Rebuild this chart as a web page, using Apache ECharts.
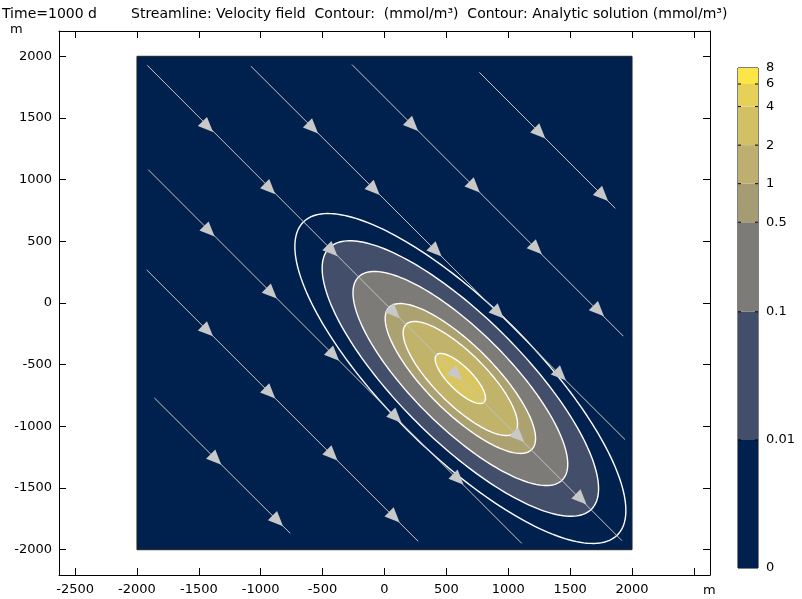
<!DOCTYPE html>
<html><head><meta charset="utf-8">
<script src="https://cdn.jsdelivr.net/npm/echarts@6/dist/echarts.min.js"></script>
<style>html,body{margin:0;padding:0;background:#fff}#c{width:802px;height:599px}</style>
</head><body><div id="c"></div>
<script>
// ---- axes ----
const xTicks = [-2500,-2000,-1500,-1000,-500,0,500,1000,1500,2000,2500];
const xLabelValues = [-2500,-2000,-1500,-1000,-500,0,500,1000,1500,2000];
const yTicks = [-2000,-1500,-1000,-500,0,500,1000,1500,2000];
const xRange = [-2630, 2630];
const yRange = [-2205, 2205];
// ---- domain ----
const domainBox = [[-2000,-2000,2000,2000]];
// ---- contour ellipses (center, semi-major along (1,-1), semi-minor) ----
const plumeCenter = [613, -612];
const fillSemiMajor = [1498, 1164, 815, 620, 271];
const fillSemiMinor = [500, 388, 272, 207, 95];
const fillColors = ['#434e6b', '#7c7b78', '#aca171', '#c2b36b', '#d9c660'];
const lineSemiMajor = [1794, 1498, 1164, 815, 620, 271];
const lineSemiMinor = [598, 500, 388, 272, 207, 95];
// ---- streamlines ----
const streamStart = [[-1917,1927],[-1079,1919],[-263,1933],[766,1870],[-1909,1081],[-1922,269],[-1860,-769]];
const streamEnd   = [[1919,-1927],[1943,-1107],[1930,-269],[1865,767],[1109,-1949],[273,-1933],[-761,-1868]];
const arrows = [
  [-1437,1437],[-934,934],[-431,431],[72,-72],[575,-575],[1078,-1078],[1581,-1581],
  [-588,1426],[-90,928],[410,428],[912,-74],[1415,-577],
  [220,1446],[718,948],[1220,446],[1722,-56],
  [1248,1386],[1755,879],
  [-1424,590],[-921,87],[-418,-416],[85,-919],[588,-1422],
  [-1437,-219],[-934,-722],[-431,-1225],[71,-1727],
  [-1370,-1259],[-871,-1758]
];
const flowDir = [1, -1];
// ---- colour bar ----
const cbLevels = [0, 0.01, 0.1, 0.5, 1, 2, 4, 6, 8];
const cbZeroPos = 0.001;
const cbColors = ['#00214e', '#434e6b', '#7c7b78', '#a59c74', '#bcaf6f', '#d2c065', '#e6d05a', '#fbe547'];

const FONT = '13px "DejaVu Sans"';
const TFONT = '14px "DejaVu Sans"';
const chart = echarts.init(document.getElementById('c'), null, {renderer: 'canvas'});

function ellipsePoints(api, cx, cy, a, b) {
  const pts = [], s = Math.SQRT1_2;
  for (let k = 0; k < 200; k++) {
    const t = k / 200 * 2 * Math.PI;
    const ca = a * Math.cos(t), sb = b * Math.sin(t);
    pts.push(api.coord([cx + (ca + sb) * s, cy + (-ca + sb) * s]));
  }
  return pts;
}
const cbPos = v => (v === 0 ? cbZeroPos : v);
const plain = v => String(v);

const axisCommon = {
  type: 'value', axisLine: {show: true, onZero: false, lineStyle: {color: '#000', width: 1}},
  splitLine: {show: false}, axisTick: {show: true, inside: true, length: 7, lineStyle: {color: '#000'}}
};

chart.setOption({
  animation: false,
  backgroundColor: '#fff',
  grid: [
    {left: 59, right: 92, top: 31, bottom: 24},
    {left: 738, top: 68, width: 20, height: 500, show: true, borderColor: '#000', borderWidth: 1, backgroundColor: 'transparent'}
  ],
  xAxis: [
    Object.assign({}, axisCommon, {gridIndex: 0, position: 'bottom', min: xRange[0], max: xRange[1],
      axisTick: Object.assign({}, axisCommon.axisTick, {customValues: xTicks}),
      axisLabel: {customValues: xLabelValues, formatter: plain, color: '#000', fontFamily: 'DejaVu Sans', fontSize: 13, margin: 8}}),
    Object.assign({}, axisCommon, {gridIndex: 0, position: 'top', min: xRange[0], max: xRange[1],
      axisTick: Object.assign({}, axisCommon.axisTick, {customValues: xTicks}), axisLabel: {show: false}}),
    {gridIndex: 1, type: 'value', min: 0, max: 1, show: false}
  ],
  yAxis: [
    Object.assign({}, axisCommon, {gridIndex: 0, position: 'left', min: yRange[0], max: yRange[1],
      axisTick: Object.assign({}, axisCommon.axisTick, {customValues: yTicks}),
      axisLabel: {customValues: yTicks, formatter: plain, color: '#000', fontFamily: 'DejaVu Sans', fontSize: 13, margin: 7}}),
    Object.assign({}, axisCommon, {gridIndex: 0, position: 'right', min: yRange[0], max: yRange[1],
      axisTick: Object.assign({}, axisCommon.axisTick, {customValues: yTicks}), axisLabel: {show: false}}),
    {gridIndex: 1, type: 'log', min: cbZeroPos, max: cbLevels[cbLevels.length - 1], show: false}
  ],
  graphic: [
    {type: 'text', left: 2, top: 7, style: {text: 'Time=1000 d', font: TFONT, fill: '#000'}},
    {type: 'text', left: 131, top: 7, style: {text: 'Streamline: Velocity field  Contour:  (mmol/m³)  Contour: Analytic solution (mmol/m³)', font: TFONT, fill: '#000'}},
    {type: 'text', left: 10, top: 23, style: {text: 'm', font: FONT, fill: '#000'}},
    {type: 'text', left: 703, top: 584, style: {text: 'm', font: FONT, fill: '#000'}}
  ],
  series: [
    { // domain
      type: 'custom', xAxisIndex: 0, yAxisIndex: 0, z: 1, silent: true,
      data: domainBox,
      renderItem(params, api) {
        const p0 = api.coord([api.value(0), api.value(3)]);
        const p1 = api.coord([api.value(2), api.value(1)]);
        return {type: 'rect', shape: {x: p0[0], y: p0[1], width: p1[0] - p0[0], height: p1[1] - p0[1]},
          style: {fill: cbColors[0], stroke: '#222', lineWidth: 1}};
      }
    },
    { // filled contours
      type: 'custom', xAxisIndex: 0, yAxisIndex: 0, z: 2, silent: true,
      data: fillSemiMajor.map((a, i) => [plumeCenter[0], plumeCenter[1], a, fillSemiMinor[i], i]),
      renderItem(params, api) {
        return {type: 'polygon', shape: {points: ellipsePoints(api, api.value(0), api.value(1), api.value(2), api.value(3))},
          style: {fill: fillColors[api.value(4)]}};
      }
    },
    { // contour lines
      type: 'custom', xAxisIndex: 0, yAxisIndex: 0, z: 3, silent: true,
      data: lineSemiMajor.map((a, i) => [plumeCenter[0], plumeCenter[1], a, lineSemiMinor[i]]),
      renderItem(params, api) {
        return {type: 'polygon', shape: {points: ellipsePoints(api, api.value(0), api.value(1), api.value(2), api.value(3))},
          style: {fill: 'none', stroke: '#ffffff', lineWidth: 1.4}};
      }
    },
    { // streamlines
      type: 'custom', xAxisIndex: 0, yAxisIndex: 0, z: 4, silent: true,
      data: streamStart.map((s, i) => [s[0], s[1], streamEnd[i][0], streamEnd[i][1]]),
      renderItem(params, api) {
        const p = api.coord([api.value(0), api.value(1)]);
        const q = api.coord([api.value(2), api.value(3)]);
        return {type: 'line', shape: {x1: p[0], y1: p[1], x2: q[0], y2: q[1]}, style: {stroke: '#c4c4c4', lineWidth: 1}};
      }
    },
    { // arrows
      type: 'custom', xAxisIndex: 0, yAxisIndex: 0, z: 5, silent: true,
      data: arrows,
      renderItem(params, api) {
        const x = api.value(0), y = api.value(1);
        const p = api.coord([x, y]);
        const q = api.coord([x + flowDir[0] * 100, y + flowDir[1] * 100]);
        let dx = q[0] - p[0], dy = q[1] - p[1];
        const L = Math.hypot(dx, dy); dx /= L; dy /= L;
        const nx = -dy, ny = dx;
        return {type: 'polygon', shape: {points: [
          [p[0] + dx * 9, p[1] + dy * 9],
          [p[0] - dx * 6 + nx * 6.5, p[1] - dy * 6 + ny * 6.5],
          [p[0] - dx * 6 - nx * 6.5, p[1] - dy * 6 - ny * 6.5]]},
          style: {fill: '#c8c8c8'}};
      }
    },
    { // colour bar bands
      type: 'custom', xAxisIndex: 2, yAxisIndex: 2, z: 2, silent: true,
      data: cbColors.map((c, i) => [0, cbPos(cbLevels[i]), 1, cbPos(cbLevels[i + 1]), i]),
      renderItem(params, api) {
        const p0 = api.coord([api.value(0), api.value(3)]);
        const p1 = api.coord([api.value(2), api.value(1)]);
        return {type: 'rect', shape: {x: p0[0], y: p0[1], width: p1[0] - p0[0], height: p1[1] - p0[1]},
          style: {fill: cbColors[api.value(4)]}};
      }
    },
    { // colour bar ticks + labels
      type: 'custom', xAxisIndex: 2, yAxisIndex: 2, z: 3, silent: true,
      data: cbLevels.map((v, i) => [1, cbPos(v), i]),
      renderItem(params, api) {
        const i = api.value(2);
        const pr = api.coord([1, api.value(1)]);
        const pl = api.coord([0, api.value(1)]);
        const children = [
          {type: 'text', x: pr[0] + 8, y: pr[1], style: {text: String(cbLevels[i]), font: FONT, fill: '#000', verticalAlign: 'middle', align: 'left'}}
        ];
        if (i > 0 && i < cbLevels.length - 1) {
          children.push({type: 'line', shape: {x1: pl[0], y1: pl[1], x2: pl[0] + 3, y2: pl[1]}, style: {stroke: '#000', lineWidth: 1}});
          children.push({type: 'line', shape: {x1: pr[0] - 3, y1: pr[1], x2: pr[0], y2: pr[1]}, style: {stroke: '#000', lineWidth: 1}});
        }
        return {type: 'group', children};
      }
    }
  ]
});
</script></body></html>
